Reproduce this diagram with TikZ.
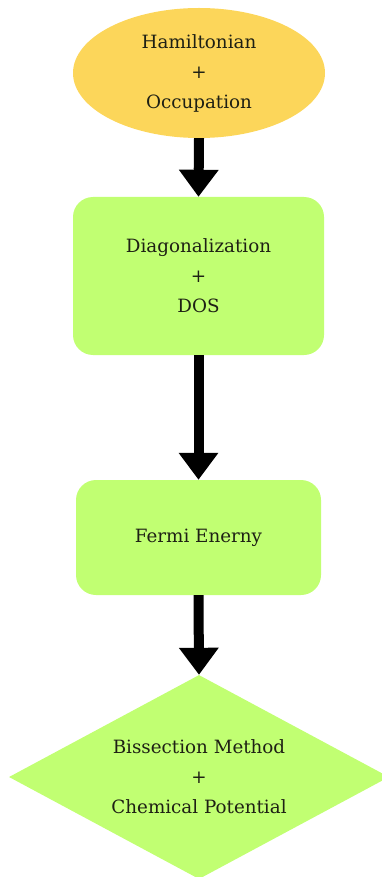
\documentclass[tikz,border=0pt]{standalone}
\usepackage{fontspec}
\setmainfont{DejaVu Serif}
\definecolor{flowyellow}{RGB}{252,214,90}
\definecolor{flowgreen}{RGB}{193,255,114}
\definecolor{flowtext}{RGB}{30,32,20}
\usetikzlibrary{shapes.geometric,arrows.meta,positioning,calc}

\begin{document}
\begin{tikzpicture}[x=1pt, y=-1pt,
    label/.style={text=flowtext, align=center, inner sep=0pt,
        font=\fontsize{18.3}{30}\selectfont},
    stepbox/.style={label, rectangle, rounded corners=20pt, fill=flowgreen},
    flow/.style={line width=10pt, -{Triangle[width=38pt,length=27pt]}}]
    \clip (0,0) rectangle (382,877);
    \useasboundingbox (0,0) rectangle (382,877);
    \node[label, ellipse, fill=flowyellow, minimum width=252pt, minimum height=130pt] (ham) at (199,73) {Hamiltonian\\+\\Occupation};
    \node[stepbox, minimum width=251pt, minimum height=158pt] (diag) at (198.5,276) {Diagonalization\\+\\DOS};
    \node[stepbox, minimum width=245pt, minimum height=115pt] (fermi) at (198.5,537.5) {Fermi Enerny};
    \node[label, diamond, aspect=1.86, fill=flowgreen, minimum width=380pt, minimum height=204pt] (bis) at (199,777) {Bissection Method\\+\\Chemical Potential};
    \draw[flow] (ham.south) -- (diag.north);
    \draw[flow] (diag.south) -- (fermi.north);
    \draw[flow] (fermi.south) -- (bis.north);
\end{tikzpicture}
\end{document}
